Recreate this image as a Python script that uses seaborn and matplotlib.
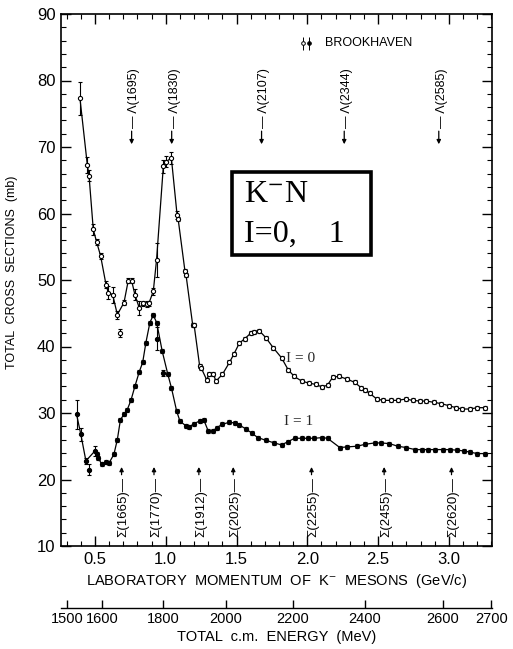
import numpy as np
import matplotlib
matplotlib.use("Agg")
import matplotlib.pyplot as plt
from matplotlib.patches import Rectangle
import pandas as pd
import seaborn as sns

# I = 0 (open circles)
p_i0 = [0.394, 0.446, 0.458, 0.488, 0.512, 0.540, 0.578, 0.594, 0.625, 0.658,
        0.705, 0.735, 0.759, 0.782, 0.813, 0.841, 0.865, 0.881, 0.912, 0.935,
        0.983, 1.000, 1.040, 1.080, 1.088, 1.136, 1.143, 1.190, 1.200, 1.240,
        1.250, 1.289, 1.307, 1.335, 1.355, 1.400, 1.450, 1.480, 1.520, 1.560,
        1.600, 1.623, 1.660, 1.708, 1.760, 1.818, 1.865, 1.908, 1.960, 2.010,
        2.060, 2.105, 2.143, 2.180, 2.225, 2.280, 2.336, 2.380, 2.410, 2.440,
        2.490, 2.536, 2.588, 2.640, 2.694, 2.744, 2.795, 2.840, 2.896, 2.948,
        3.000, 3.050, 3.096, 3.148, 3.200, 3.254]
s_i0 = [77.3, 67.3, 65.7, 57.6, 55.7, 53.6, 49.3, 48.1, 47.8, 44.8,
        46.6, 49.9, 49.9, 47.8, 45.8, 46.5, 46.4, 46.5, 48.3, 53.0,
        67.1, 67.8, 68.3, 59.8, 59.1, 51.3, 50.8, 43.3, 43.3, 37.0,
        36.8, 35.0, 35.8, 35.9, 34.8, 35.8, 37.6, 38.8, 40.5, 41.2,
        42.0, 42.2, 42.4, 41.3, 39.8, 38.3, 36.5, 35.5, 34.8, 34.5,
        34.3, 33.9, 34.2, 35.4, 35.5, 35.1, 34.6, 33.8, 33.4, 33.0,
        32.1, 31.9, 31.9, 31.9, 32.1, 31.9, 31.8, 31.8, 31.6, 31.4,
        31.1, 30.8, 30.6, 30.6, 30.8, 30.8]
e_i0 = [2.5, 1.2, 0.8, 0.8, 0.5, 0.5, 0.5, 1.0, 1.2, 0.6,
        0.4, 0.4, 0.4, 0.8, 1.0, 0.4, 0.4, 0.4, 0.5, 2.6,
        1.0, 0.8, 0.9, 0.6] + [0.3] * 52
p_i0_off = [0.680]
s_i0_off = [42.1]
e_i0_off = [0.6]

# I = 1 (filled circles)
p_i1 = [0.370, 0.400, 0.436, 0.500, 0.512, 0.523, 0.547, 0.578, 0.600, 0.634,
        0.658, 0.680, 0.705, 0.728, 0.754, 0.782, 0.813, 0.837, 0.860, 0.888,
        0.912, 0.936, 0.975, 1.015, 1.040, 1.077, 1.100, 1.140, 1.166, 1.200,
        1.240, 1.270, 1.300, 1.335, 1.360, 1.400, 1.448, 1.490, 1.520, 1.566,
        1.607, 1.650, 1.707, 1.766, 1.818, 1.865, 1.910, 1.960, 2.006, 2.050,
        2.105, 2.143, 2.230, 2.278, 2.350, 2.410, 2.477, 2.520, 2.580, 2.640,
        2.700, 2.760, 2.807, 2.854, 2.900, 2.960, 3.007, 3.060, 3.106, 3.153,
        3.200, 3.254]
s_i1 = [29.8, 26.8, 22.8, 24.3, 23.8, 23.3, 22.3, 22.6, 22.5, 23.8,
        26.0, 29.0, 29.8, 30.5, 31.9, 34.0, 36.2, 37.6, 40.6, 43.6,
        44.7, 43.6, 39.3, 35.8, 33.8, 30.3, 28.8, 28.1, 27.9, 28.4,
        28.8, 28.9, 27.3, 27.3, 27.8, 28.3, 28.6, 28.5, 28.2, 27.6,
        27.0, 26.3, 25.9, 25.5, 25.2, 25.7, 26.2, 26.2, 26.2, 26.2,
        26.3, 26.2, 24.8, 24.9, 25.0, 25.3, 25.5, 25.5, 25.4, 25.0,
        24.8, 24.5, 24.5, 24.5, 24.5, 24.5, 24.5, 24.4, 24.3, 24.1,
        23.9, 23.9]
e_i1 = [2.2, 1.0, 0.5, 0.7] + [0.3] * 68
p_i1_off = [0.460, 0.940, 0.983]
s_i1_off = [21.5, 41.2, 36.0]
e_i1_off = [0.8, 1.8, 0.5]

# resonance markers
lam_names = ["1695", "1830", "2107", "2344", "2585"]
lam_pos = [0.759, 1.042, 1.677, 2.261, 2.929]
sig_names = ["1665", "1770", "1912", "2025", "2255", "2455", "2620"]
sig_pos = [0.688, 0.917, 1.234, 1.477, 2.030, 2.543, 3.019]

# c.m. energy scale
e_labels = [1500, 1600, 1800, 2000, 2200, 2400, 2600, 2700]
e_pos = [0.302, 0.549, 0.980, 1.425, 1.898, 2.407, 2.958, 3.300]

sns.set_theme(style="ticks")
plt.rcParams["font.family"] = ["Liberation Sans", "DejaVu Sans"]
plt.rcParams["mathtext.fontset"] = "stix"

fig = plt.figure(figsize=(5.13, 6.49), dpi=100)
ax = fig.add_axes([61 / 513, 103 / 649, 431 / 513, 532 / 649])

df0 = pd.DataFrame({"p": p_i0, "s": s_i0})
df1 = pd.DataFrame({"p": p_i1, "s": s_i1})
sns.lineplot(data=df0, x="p", y="s", ax=ax, color="black", lw=0.9,
             estimator=None, sort=True)
sns.lineplot(data=df1, x="p", y="s", ax=ax, color="black", lw=0.9,
             estimator=None, sort=True)

ax.errorbar(p_i0 + p_i0_off, s_i0 + s_i0_off, yerr=e_i0 + e_i0_off, fmt="o",
            ms=3.0, mfc="white", mec="black", mew=0.8, ecolor="black",
            elinewidth=0.8, capsize=1.2, zorder=3)
ax.errorbar(p_i1 + p_i1_off, s_i1 + s_i1_off, yerr=e_i1 + e_i1_off, fmt="o",
            ms=3.0, mfc="black", mec="black", mew=0.8, ecolor="black",
            elinewidth=0.8, capsize=1.2, zorder=3)

ax.set_xlim(0.26, 3.305)
ax.set_ylim(10, 90)
ax.set_xticks([0.5, 1.0, 1.5, 2.0, 2.5, 3.0])
ax.set_xticklabels(["0.5", "1.0", "1.5", "2.0", "2.5", "3.0"])
ax.set_xticks(np.arange(0.3, 3.31, 0.1), minor=True)
ax.set_yticks(range(10, 91, 10))
ax.set_yticks(range(10, 91, 2), minor=True)
ax.tick_params(which="both", direction="in", top=True, right=True,
               colors="black", labelsize=12)
ax.tick_params(which="major", length=7, width=1, pad=4)
ax.tick_params(which="minor", length=3.5, width=0.8)
for sp in ax.spines.values():
    sp.set_color("black")
    sp.set_linewidth(1.2)

ax.set_xlabel(r"LABORATORY  MOMENTUM  OF  K$^{-}$  MESONS  (GeV/c)",
              fontsize=10.5, labelpad=4, color="black")
ax.set_ylabel("TOTAL  CROSS  SECTIONS  (mb)", fontsize=9, color="black")
ax.yaxis.set_label_coords(-0.1, 0.515)

for name, x in zip(lam_names, lam_pos):
    ax.annotate("", xy=(x, 70.0), xytext=(x, 72.8),
                arrowprops=dict(arrowstyle="-|>", color="black", lw=0.9,
                                mutation_scale=6))
    ax.text(x + 0.02, 72.8, "\u2014 \u039b(" + name + ")", rotation=90,
            ha="center", va="bottom", fontsize=9, color="black")

for name, x in zip(sig_names, sig_pos):
    ax.annotate("", xy=(x, 22.3), xytext=(x, 20.3),
                arrowprops=dict(arrowstyle="-|>", color="black", lw=0.9,
                                mutation_scale=6))
    ax.text(x + 0.015, 20.4, "\u03a3(" + name + ")\u2014", rotation=90,
            ha="center", va="top", fontsize=9.5, color="black")

ax.text(1.95, 38.2, "I = 0", fontsize=11, ha="center", va="center",
        family="Liberation Serif")
ax.text(1.94, 28.7, "I = 1", fontsize=11, ha="center", va="center",
        family="Liberation Serif")

# legend marker
ax.errorbar([0.562], [0.945], yerr=[0.012], fmt="o", ms=2.6, mfc="white",
            mec="black", mew=0.7, ecolor="black", elinewidth=0.7,
            transform=ax.transAxes, clip_on=False)
ax.errorbar([0.575], [0.945], yerr=[0.012], fmt="o", ms=2.6, mfc="black",
            mec="black", mew=0.7, ecolor="black", elinewidth=0.7,
            transform=ax.transAxes, clip_on=False)
ax.text(0.612, 0.945, "BROOKHAVEN", transform=ax.transAxes, fontsize=9,
        va="center", ha="left", color="black")

# K-N box
ax.add_patch(Rectangle((0.397, 0.547), 0.3225, 0.156, transform=ax.transAxes,
                       fc="white", ec="black", lw=2.6, zorder=4))
ax.text(0.425, 0.660, "K$^{-}$N", transform=ax.transAxes, fontsize=23,
        family="Liberation Serif", va="center", ha="left", color="black",
        zorder=5)
ax.text(0.425, 0.585, "I=0,    1", transform=ax.transAxes, fontsize=23,
        family="Liberation Serif", va="center", ha="left", color="black",
        zorder=5)

# energy axis
ax2 = fig.add_axes([61 / 513, 41 / 649, 431 / 513, 0.0001])
ax2.set_xlim(ax.get_xlim())
ax2.set_yticks([])
for side in ["left", "right", "top"]:
    ax2.spines[side].set_visible(False)
ax2.spines["bottom"].set_color("black")
ax2.spines["bottom"].set_linewidth(1.0)
ax2.set_xticks(e_pos)
ax2.set_xticklabels([str(v) for v in e_labels])
ax2.tick_params(direction="in", length=6, width=1, labelsize=10.5, pad=3,
                colors="black")
ax2.set_xlabel("TOTAL  c.m.  ENERGY  (MeV)", fontsize=10.5, labelpad=3,
               color="black")

fig.savefig("out.png", dpi=100)
